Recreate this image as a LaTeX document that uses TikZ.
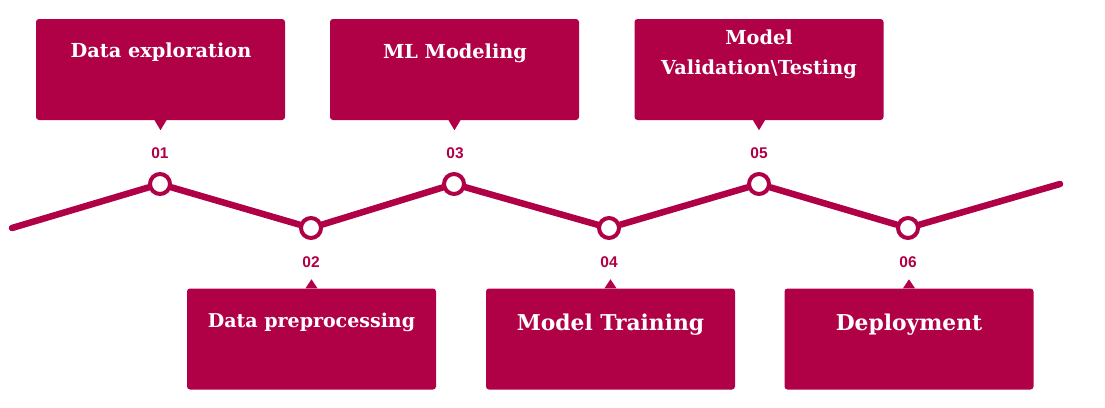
\documentclass[tikz,border=0pt]{standalone}
\usepackage{fontspec}
\setmainfont{DejaVu Serif}
\newfontfamily\numfont{Liberation Sans}
\definecolor{crim}{RGB}{176,0,70}
\begin{document}
\begin{tikzpicture}[x=1pt,y=-1pt,
  box/.style={fill=crim, rounded corners=3pt, minimum width=249pt, minimum height=101pt, inner sep=0pt},
  dot/.style={circle, draw=crim, fill=white, line width=4pt, minimum size=20pt, inner sep=0pt},
  num/.style={text=crim, inner sep=0pt, font=\numfont\bfseries\fontsize{15.5}{15.5}\selectfont},
  ttl/.style={text=white, inner sep=0pt, align=center, font=\bfseries\fontsize{19.3}{29.5}\selectfont},
  ttls/.style={text=white, inner sep=0pt, align=center, font=\bfseries\fontsize{19}{25}\selectfont},
  ttlb/.style={text=white, inner sep=0pt, align=center, font=\bfseries\fontsize{21.8}{25}\selectfont},
  track/.style={draw=crim, line width=6.5pt, line cap=round}
]
\useasboundingbox (0,0) rectangle (1105,407);
% boxes
\node[box] (b1) at (160.5,69.5) {};
\node[box] (b3) at (454.5,69.5) {};
\node[box] (b5) at (759,69.5) {};
\node[box] (b2) at (311.5,339) {};
\node[box] (b4) at (610.5,339) {};
\node[box] (b6) at (909,339) {};
% pointers
\fill[crim] ([xshift=-6pt]b1.south) -- ([yshift=-10pt]b1.south) -- ([xshift=6pt]b1.south) -- cycle;
\fill[crim] ([xshift=-6pt]b3.south) -- ([yshift=-10pt]b3.south) -- ([xshift=6pt]b3.south) -- cycle;
\fill[crim] ([xshift=-6pt]b5.south) -- ([yshift=-10pt]b5.south) -- ([xshift=6pt]b5.south) -- cycle;
\fill[crim] ([xshift=-6pt]b2.north) -- ([yshift=9pt]b2.north) -- ([xshift=6pt]b2.north) -- cycle;
\fill[crim] ([xshift=-6pt]b4.north) -- ([yshift=9pt]b4.north) -- ([xshift=6pt]b4.north) -- cycle;
\fill[crim] ([xshift=-6pt]b6.north) -- ([yshift=9pt]b6.north) -- ([xshift=6pt]b6.north) -- cycle;
% titles
\node[ttl, anchor=base] (t1) at (161,57) {Data exploration};
\node[ttl, anchor=base] (t3) at (455,58) {ML Modeling};
\node[ttl, anchor=north] (t5) at (759,30) {Model\\Validation\textbackslash Testing};
\node[ttls, anchor=base] (t2) at (311.5,327) {Data preprocessing};
\node[ttlb, anchor=base] (t4) at (610.5,330) {Model Training};
\node[ttlb, anchor=base] (t6) at (909,330) {Deployment};
% track
\coordinate (s) at (12,228);
\coordinate (e) at (1060,184);
\node[dot] (c1) at (160,184) {};
\node[dot] (c2) at (311,228) {};
\node[dot] (c3) at (454,184) {};
\node[dot] (c4) at (609,228) {};
\node[dot] (c5) at (759,184) {};
\node[dot] (c6) at (908,228) {};
\draw[track] (s) -- (c1) (c1) -- (c2) (c2) -- (c3) (c3) -- (c4) (c4) -- (c5) (c5) -- (c6) (c6) -- (e);
% numbers
\node[num] (n1) at (160,153) {01};
\node[num] (n3) at (455,153) {03};
\node[num] (n5) at (759,153) {05};
\node[num] (n2) at (311,262) {02};
\node[num] (n4) at (609,262) {04};
\node[num] (n6) at (908,262) {06};
\end{tikzpicture}
\end{document}
